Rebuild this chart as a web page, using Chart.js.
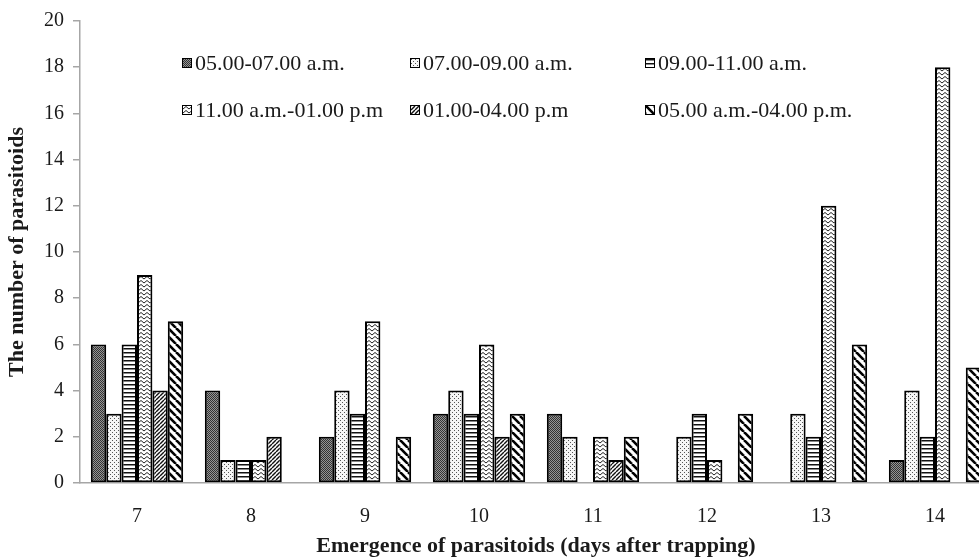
<!DOCTYPE html>
<html>
<head>
<meta charset="utf-8">
<script src="https://cdn.jsdelivr.net/npm/chart.js@4.4.1/dist/chart.umd.min.js"></script>
<style>
  html, body { margin: 0; padding: 0; background: #fff; }
  #wrap { position: relative; width: 979px; height: 560px; overflow: hidden; }
  #legend div.item { position: absolute; font-family: "Liberation Serif", "Times New Roman", serif; font-size: 22px; color: #1a1a1a; white-space: nowrap; line-height: 22px; }
  #legend span.box { display: inline-block; width: 8px; height: 8px; border: 1px solid #000; margin-right: 3px; vertical-align: 2px; }
</style>
</head>
<body>
<div id="wrap">
  <canvas id="mycanvas" width="1000" height="560"></canvas>
  <div id="legend"></div>
</div>
<script>
// days after trapping
var days = ['7', '8', '9', '10', '11', '12', '13', '14'];

// number of parasitoids per trapping time
var t0507 = [6, 4, 2, 3, 3, 0, 0, 1];
var t0709 = [3, 1, 4, 4, 2, 2, 3, 4];
var t0911 = [6, 1, 3, 3, 0, 3, 2, 2];
var t1101 = [9, 1, 7, 6, 2, 1, 12, 18];
var t0104 = [4, 2, 0, 2, 1, 0, 0, 0];
var t0504 = [7, 0, 2, 3, 2, 3, 6, 5];

var seriesNames = ['05.00-07.00 a.m.', '07.00-09.00 a.m.', '09.00-11.00 a.m.',
                   '11.00 a.m.-01.00 p.m', '01.00-04.00 p.m', '05.00 a.m.-04.00 p.m.'];
var seriesKinds = ['checker', 'dots', 'hlines', 'zigzag', 'fwdiag', 'backdiag'];

var yMin = 0, yMax = 20, yStep = 2;

function makeTile(kind) {
    var c = document.createElement('canvas');
    var g = c.getContext('2d');
    var s;
    if (kind == 'checker') {
        c.width = 2; c.height = 2;
        g.fillStyle = '#959595'; g.fillRect(0, 0, 2, 2);
        g.fillStyle = '#333'; g.fillRect(0, 0, 1, 1); g.fillRect(1, 1, 1, 1);
    } else if (kind == 'dots') {
        c.width = 4; c.height = 4;
        g.fillStyle = '#f6f6f6'; g.fillRect(0, 0, 4, 4);
        g.fillStyle = '#555'; g.fillRect(0, 0, 1, 1); g.fillRect(2, 2, 1, 1);
    } else if (kind == 'hlines') {
        c.width = 4; c.height = 4;
        g.fillStyle = '#fff'; g.fillRect(0, 0, 4, 4);
        g.fillStyle = '#111'; g.fillRect(0, 0, 4, 1);
        g.fillStyle = '#888'; g.fillRect(0, 1, 4, 1);
    } else if (kind == 'zigzag') {
        c.width = 6; c.height = 4;
        g.fillStyle = '#fff'; g.fillRect(0, 0, 6, 4);
        g.strokeStyle = '#222'; g.lineWidth = 1;
        g.beginPath(); g.moveTo(0, 3); g.lineTo(3, 0.5); g.lineTo(6, 3); g.stroke();
    } else if (kind == 'fwdiag') {
        s = 4; c.width = s; c.height = s;
        g.fillStyle = '#fff'; g.fillRect(0, 0, s, s);
        g.strokeStyle = '#111'; g.lineWidth = 1.4;
        for (var k = -1; k <= 1; k++) {
            g.beginPath(); g.moveTo(k * s, s); g.lineTo(k * s + s, 0); g.stroke();
        }
    } else {
        s = 8; c.width = s; c.height = s;
        g.fillStyle = '#fff'; g.fillRect(0, 0, s, s);
        g.strokeStyle = '#000'; g.lineWidth = 2.6;
        for (var k = -1; k <= 1; k++) {
            g.beginPath(); g.moveTo(k * s, 0); g.lineTo(k * s + s, s); g.stroke();
        }
    }
    return c;
}

var ctx = document.getElementById('mycanvas').getContext('2d');
var seriesData = [t0507, t0709, t0911, t1101, t0104, t0504];
var datasets = [];
for (var i = 0; i < seriesData.length; i++) {
    datasets.push({
        label: seriesNames[i],
        data: seriesData[i],
        backgroundColor: ctx.createPattern(makeTile(seriesKinds[i]), 'repeat'),
        borderColor: '#000',
        borderWidth: 2,
        borderSkipped: false,
        categoryPercentage: 0.81,
        barPercentage: 1.0
    });
}

// legend inside the plot, two rows of three
var legendPos = [[182, 52], [410, 52], [645, 52], [182, 99], [410, 99], [645, 99]];
var legend = document.getElementById('legend');
for (var j = 0; j < seriesNames.length; j++) {
    var item = document.createElement('div');
    item.className = 'item';
    item.style.left = legendPos[j][0] + 'px';
    item.style.top = legendPos[j][1] + 'px';
    var box = document.createElement('span');
    box.className = 'box';
    box.style.backgroundImage = 'url(' + makeTile(seriesKinds[j]).toDataURL() + ')';
    item.appendChild(box);
    item.appendChild(document.createTextNode(seriesNames[j]));
    legend.appendChild(item);
}

var serif = '"Liberation Serif", "Times New Roman", serif';

var barChart = new Chart(ctx, {
    type: 'bar',
    data: { labels: days, datasets: datasets },
    options: {
        responsive: false,
        animation: false,
        layout: { padding: { top: 20, right: 8, bottom: 0, left: 0 } },
        plugins: {
            legend: { display: false },
            tooltip: { enabled: false }
        },
        scales: {
            x: {
                grid: { display: false },
                border: { color: '#a6a6a6', width: 1.5 },
                ticks: { color: '#1a1a1a', padding: 14, font: { family: serif, size: 20 } },
                title: {
                    display: true,
                    text: 'Emergence of parasitoids (days after trapping)',
                    color: '#1a1a1a',
                    font: { family: serif, size: 22, weight: 'bold' },
                    padding: { top: 0, bottom: 0 }
                },
                afterFit: function(scale) { scale.height = 77; }
            },
            y: {
                min: yMin,
                max: yMax,
                grid: { drawOnChartArea: false, drawTicks: true, tickLength: 7, color: '#a6a6a6', lineWidth: 1.5 },
                border: { color: '#a6a6a6', width: 1.5 },
                ticks: { stepSize: yStep, color: '#1a1a1a', padding: 9, font: { family: serif, size: 20 } },
                title: {
                    display: true,
                    text: 'The number of parasitoids',
                    color: '#1a1a1a',
                    font: { family: serif, size: 22, weight: 'bold' },
                    padding: { top: 4, bottom: 0 }
                },
                afterFit: function(scale) { scale.width = 80; }
            }
        }
    }
});
</script>
</body>
</html>
